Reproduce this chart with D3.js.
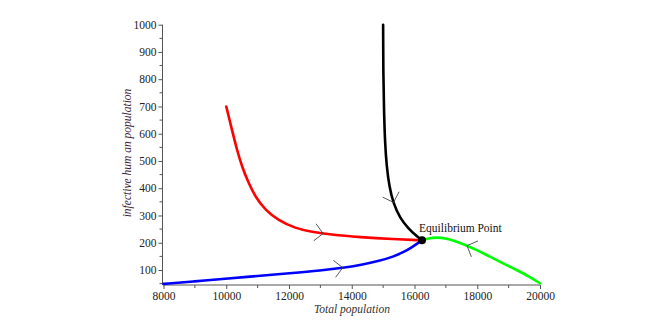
<!DOCTYPE html>
<html>
<head>
<meta charset="utf-8">
<script src="https://cdn.jsdelivr.net/npm/d3@7"></script>
<style>
  body { margin: 0; background: #fff; }
  svg { display: block; }
  text { font-family: "Liberation Serif", "Times New Roman", serif; }
</style>
</head>
<body>
<svg width="646" height="333"></svg>
<script>
// trajectories, [total population, infective human population]
var redCurve = [[10000,700],[10183,614],[10343,540],[10502,479],[10716,418],[10926,369],[11245,320],[11672,281],[12201,253],[12733,240],[13300,230],[14263,220],[15324,213],[16240,209]];
var blackCurve = [[15000,1000],[15006,809],[15028,687],[15060,565],[15114,479],[15197,406],[15324,345],[15538,290],[15802,253],[16040,227],[16240,209]];
var blueCurve = [[8000,49],[9000,58],[9947,68],[11000,78],[12022,88],[13000,98],[13832,110],[14263,118],[14900,134],[15324,149],[15643,165],[15911,183],[16090,197],[16240,209]];
var greenCurve = [[16240,209],[16436,216],[16704,220],[17023,216],[17300,206],[17714,188],[18000,172],[18405,149],[18800,126],[19257,100],[19681,75],[20000,51]];

// direction markers: dir 1 = along the data order, -1 = against it
var arrowsAt = [
  {curve: "red", at: [13090, 233], dir: 1},
  {curve: "blue", at: [13720, 107], dir: 1},
  {curve: "black", at: [15320, 347], dir: 1},
  {curve: "green", at: [17670, 190], dir: -1}
];

var equilibrium = [16240, 209];
var xTicks = [8000, 10000, 12000, 14000, 16000, 18000, 20000];
var yTicks = [100, 200, 300, 400, 500, 600, 700, 800, 900, 1000];

var svg = d3.select("svg");
var x = d3.scaleLinear().domain([8000, 20000]).range([163.5, 540]);
var y = d3.scaleLinear().domain([45, 1000]).range([285, 24.7]);

// axes
var xAxis = svg.append("g").attr("transform", "translate(0,285)")
  .call(d3.axisBottom(x).tickValues(xTicks).tickSize(4).tickPadding(3).tickFormat(d3.format("d")));
xAxis.select(".domain").attr("d", "M163.5,0H540");
xAxis.append("g").selectAll("line").data(d3.range(9000, 20000, 2000)).enter().append("line")
  .attr("x1", function(d) { return x(d); }).attr("x2", function(d) { return x(d); })
  .attr("y1", 0).attr("y2", 3);

var yAxis = svg.append("g").attr("transform", "translate(162.5,0)")
  .call(d3.axisLeft(y).tickValues(yTicks).tickSize(4).tickPadding(2).tickFormat(d3.format("d")));
yAxis.select(".domain").attr("d", "M0,24.7V285");
yAxis.append("g").selectAll("line").data(d3.range(50, 1000, 100)).enter().append("line")
  .attr("y1", function(d) { return y(d); }).attr("y2", function(d) { return y(d); })
  .attr("x1", 0).attr("x2", -3);

svg.selectAll("g").attr("font-family", null).attr("font-size", null);
svg.selectAll(".domain, line").attr("stroke", "#555");
svg.selectAll(".tick text")
  .style("font-size", "11.5px")
  .attr("fill", "#222");

// labels
svg.append("text")
  .attr("x", 352).attr("y", 313)
  .attr("text-anchor", "middle")
  .style("font-style", "italic")
  .style("font-size", "11.5px").style("fill", "#333")
  .text("Total population");
svg.append("text")
  .attr("transform", "translate(131,153) rotate(-90)")
  .attr("text-anchor", "middle")
  .style("font-style", "italic")
  .style("font-size", "11.5px").style("fill", "#3c1e3c")
  .text("infective hum an population");

// curves
var line = d3.line()
  .x(function(d) { return x(d[0]); })
  .y(function(d) { return y(d[1]); })
  .curve(d3.curveBasis);

var curves = {red: redCurve, black: blackCurve, blue: blueCurve, green: greenCurve};
var colors = {red: "#ff0000", black: "#000000", blue: "#0000ff", green: "#00ff00"};
var paths = {};
["green", "blue", "red", "black"].forEach(function(k) {
  paths[k] = svg.append("path")
    .datum(curves[k])
    .attr("d", line)
    .attr("fill", "none")
    .attr("stroke", colors[k])
    .attr("stroke-width", 2.6)
    .attr("stroke-linecap", "round");
});

// chevrons
arrowsAt.forEach(function(a) {
  var node = paths[a.curve].node();
  var total = node.getTotalLength();
  var px = x(a.at[0]), py = y(a.at[1]);
  var best = 0, bestD = 1e12;
  for (var s = 0; s <= total; s += 0.5) {
    var p = node.getPointAtLength(s);
    var dd = (p.x - px) * (p.x - px) + (p.y - py) * (p.y - py);
    if (dd < bestD) { bestD = dd; best = s; }
  }
  var p0 = node.getPointAtLength(Math.max(0, best - 2));
  var p1 = node.getPointAtLength(Math.min(total, best + 2));
  var tip = node.getPointAtLength(best);
  var ang = Math.atan2(p1.y - p0.y, p1.x - p0.x);
  if (a.dir < 0) ang += Math.PI;
  var len = 12, spread = 0.8;
  var pts = [
    [tip.x - len * Math.cos(ang - spread), tip.y - len * Math.sin(ang - spread)],
    [tip.x, tip.y],
    [tip.x - len * Math.cos(ang + spread), tip.y - len * Math.sin(ang + spread)]
  ];
  svg.append("path")
    .attr("d", d3.line()(pts))
    .attr("fill", "none")
    .attr("stroke", "#444")
    .attr("stroke-width", 0.9);
});

// equilibrium
svg.append("circle")
  .attr("cx", x(equilibrium[0])).attr("cy", y(equilibrium[1]))
  .attr("r", 4).attr("fill", "#000");
svg.append("text")
  .attr("x", x(equilibrium[0]) - 3).attr("y", y(equilibrium[1]) - 8)
  .style("font-size", "11.5px").style("fill", "#111")
  .text("Equilibrium Point");
</script>
</body>
</html>
